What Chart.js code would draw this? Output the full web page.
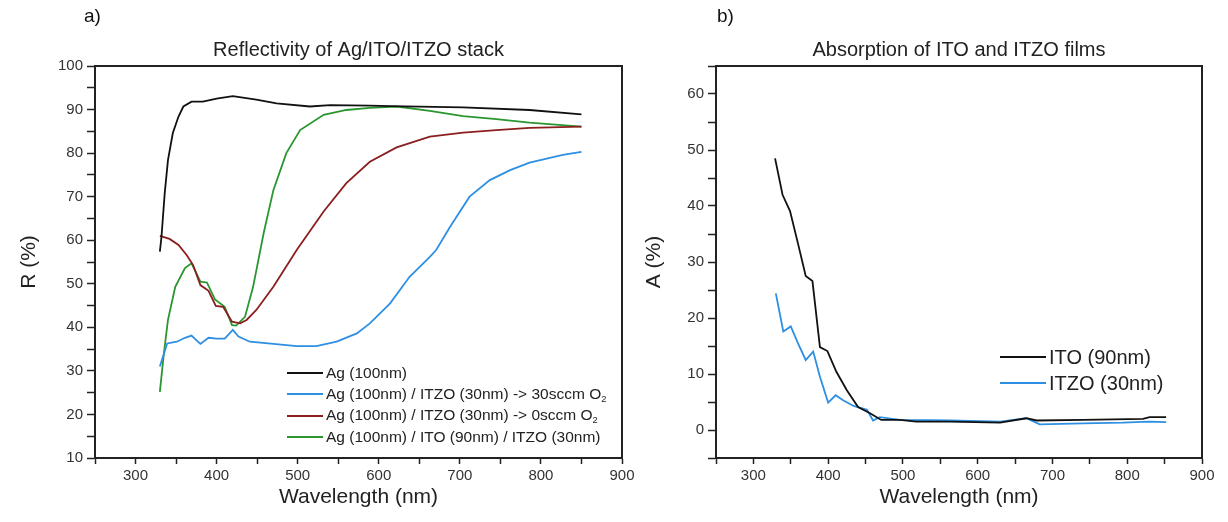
<!DOCTYPE html>
<html>
<head>
<meta charset="utf-8">
<script src="https://cdn.jsdelivr.net/npm/chart.js@4.4.0/dist/chart.umd.min.js"></script>
<style>
  body { margin: 0; background: #fff; font-family: "Liberation Sans", Arial, sans-serif; }
  #wrap { position: relative; width: 1228px; height: 522px; overflow: hidden; }
  .panel { position: absolute; top: 0; height: 522px; }
  .tag { position: absolute; top: 5px; font-size: 19px; color: #111; }
  .legend { position: absolute; color: #222; }
  .legend .row { display: flex; align-items: center; white-space: nowrap; }
  .legend .sw { display: inline-block; height: 2px; }
  .legend sub { font-size: 60%; vertical-align: -3px; }
</style>
</head>
<body>
<div id="wrap">
  <div class="panel" style="left:0;width:640px"><canvas id="reflChart"></canvas></div>
  <div class="panel" style="left:640px;width:588px"><canvas id="absChart"></canvas></div>
  <div class="tag" style="left:84px">a)</div>
  <div class="tag" style="left:717px">b)</div>
  <div class="legend" id="legA" style="left:287px;top:362px;font-size:15.5px"></div>
  <div class="legend" id="legB" style="left:1000px;top:344px;font-size:20px"></div>
</div>
<script>
// --- a) reflectivity, R (%) vs wavelength (nm)
const wlAg = [330, 332, 336, 340, 346, 353, 359, 369, 383, 400, 420, 449, 474, 515, 540, 589, 614, 704, 786, 850];
const rAg = [57.4, 60.8, 70.8, 78.4, 84.6, 88.4, 90.7, 91.8, 91.8, 92.5, 93.1, 92.3, 91.4, 90.7, 91.0, 90.9, 90.8, 90.5, 89.9, 88.9];

const wlItzo30 = [330, 339, 351, 361, 369, 380, 390, 400, 410, 420, 427, 441, 470, 499, 523, 548, 573, 589, 614, 638, 663, 671, 688, 712, 737, 762, 786, 827, 850];
const rItzo30 = [31.0, 36.3, 36.7, 37.6, 38.1, 36.2, 37.6, 37.4, 37.4, 39.4, 37.9, 36.7, 36.2, 35.7, 35.7, 36.7, 38.6, 40.9, 45.5, 51.6, 56.2, 57.8, 63.1, 70.0, 73.8, 76.1, 77.8, 79.6, 80.3];

const wlItzo0 = [330, 342, 353, 363, 371, 380, 390, 399, 408, 419, 429, 437, 449, 470, 499, 532, 560, 589, 622, 663, 704, 745, 786, 850];
const rItzo0 = [61.0, 60.3, 58.9, 56.6, 54.3, 49.7, 48.4, 44.9, 44.7, 41.3, 40.9, 41.7, 44.0, 49.3, 57.8, 66.6, 73.1, 78.0, 81.3, 83.8, 84.7, 85.3, 85.8, 86.1];

const wlStack = [330, 335, 340, 349, 361, 369, 373, 380, 388, 398, 410, 419, 424, 435, 445, 458, 470, 486, 503, 532, 560, 589, 622, 663, 704, 745, 786, 850];
const rStack = [25.2, 34.1, 41.7, 49.3, 53.6, 54.7, 53.2, 50.5, 50.3, 46.4, 44.7, 40.5, 40.4, 42.4, 49.3, 61.6, 71.5, 80.0, 85.3, 88.8, 89.9, 90.4, 90.7, 89.7, 88.5, 87.8, 87.0, 86.1];

const labelsA = [
  "Ag (100nm)",
  "Ag (100nm) / ITZO (30nm) -> 30sccm O2",
  "Ag (100nm) / ITZO (30nm) -> 0sccm O2",
  "Ag (100nm) / ITO (90nm) / ITZO (30nm)"
];
const colorsA = ["#111111", "#2e8fe3", "#8b1f1f", "#2a9630"];

// --- b) absorption, A (%) vs wavelength (nm)
const wlIto = [329, 339, 349, 360, 370, 379, 389, 399, 411, 425, 440, 456, 471, 496, 518, 563, 630, 665, 679, 741, 821, 830, 852];
const aIto = [48.5, 42.0, 39.1, 33.1, 27.5, 26.6, 14.8, 14.1, 10.4, 7.1, 4.1, 3.0, 1.8, 1.8, 1.5, 1.5, 1.3, 2.1, 1.7, 1.8, 2.0, 2.3, 2.3];

const wlItzo = [330, 340, 350, 360, 370, 380, 389, 400, 410, 420, 434, 452, 460, 469, 496, 563, 630, 665, 683, 741, 794, 830, 852];
const aItzo = [24.4, 17.6, 18.5, 15.4, 12.5, 14.0, 9.5, 4.9, 6.2, 5.3, 4.3, 3.6, 1.7, 2.3, 1.8, 1.7, 1.5, 2.1, 1.0, 1.2, 1.3, 1.5, 1.4];

const labelsB = ["ITO (90nm)", "ITZO (30nm)"];
const colorsB = ["#111111", "#2e8fe3"];

const xTicks = [300, 400, 500, 600, 700, 800, 900];

const pts = (xs, ys) => xs.map((x, i) => ({ x: x, y: ys[i] }));

// black box on top + right
const frame = {
  id: "frame",
  afterDraw(chart) {
    const { ctx, chartArea: a } = chart;
    ctx.save();
    ctx.strokeStyle = "#222";
    ctx.lineWidth = 2;
    ctx.beginPath();
    ctx.moveTo(a.left, a.top);
    ctx.lineTo(a.right, a.top);
    ctx.lineTo(a.right, a.bottom);
    ctx.stroke();
    ctx.restore();
  }
};

const fam = "'Liberation Sans', Arial, sans-serif";
const tickFont = { family: fam, size: 15 };
const titleFont = { family: fam, size: 21 };

function makeChart(id, sets, opts) {
  return new Chart(document.getElementById(id), {
    type: "line",
    data: {
      datasets: sets.map(s => ({
        label: s.label,
        data: s.data,
        borderColor: s.color,
        borderWidth: 1.8,
        pointRadius: 0,
        tension: 0,
        fill: false
      }))
    },
    options: {
      responsive: false,
      animation: false,
      layout: { padding: { left: 0, right: opts.padRight, top: 0, bottom: 0 } },
      plugins: {
        legend: { display: false },
        tooltip: { enabled: false },
        title: {
          display: true,
          text: opts.title,
          fullSize: false,
          color: "#222",
          font: { family: fam, size: 20, weight: "normal" },
          padding: { top: 38, bottom: 4 }
        }
      },
      scales: {
        x: {
          type: "linear",
          min: 250,
          max: 900,
          afterFit: s => { s.height = 64; },
          ticks: {
            stepSize: 50,
            autoSkip: false,
            maxRotation: 0,
            color: "#333",
            font: tickFont,
            padding: 3,
            callback: v => (xTicks.includes(v) ? v : "")
          },
          grid: { drawOnChartArea: false, tickLength: 6, color: "#222", tickWidth: 1.5 },
          border: { color: "#222", width: 2 },
          title: { display: true, text: "Wavelength (nm)", color: "#222", font: titleFont, padding: { top: 0, bottom: 12 } }
        },
        y: {
          min: opts.yMin,
          max: opts.yMax,
          afterFit: s => { s.width = opts.yWidth; },
          ticks: {
            stepSize: 5,
            autoSkip: false,
            color: "#333",
            font: tickFont,
            padding: 4,
            callback: v => (opts.yLabels.includes(v) ? v : "")
          },
          grid: { drawOnChartArea: false, tickLength: 8, color: "#222", tickWidth: 1.5 },
          border: { color: "#222", width: 2 },
          title: { display: true, text: opts.yTitle, color: "#222", font: titleFont, padding: { top: opts.yTitlePad, bottom: 0 } }
        }
      }
    },
    plugins: [frame]
  });
}

function setSize(id, w, h) {
  const c = document.getElementById(id);
  c.width = w; c.height = h;
  c.style.width = w + "px"; c.style.height = h + "px";
}
setSize("reflChart", 640, 522);
setSize("absChart", 588, 522);

makeChart("reflChart", [
  { label: labelsA[0], data: pts(wlAg, rAg), color: colorsA[0] },
  { label: labelsA[1], data: pts(wlItzo30, rItzo30), color: colorsA[1] },
  { label: labelsA[2], data: pts(wlItzo0, rItzo0), color: colorsA[2] },
  { label: labelsA[3], data: pts(wlStack, rStack), color: colorsA[3] }
], {
  title: "Reflectivity of Ag/ITO/ITZO stack",
  padRight: 18, yWidth: 95, yMin: 10, yMax: 100,
  yLabels: [10, 20, 30, 40, 50, 60, 70, 80, 90, 100],
  yTitle: "R (%)", yTitlePad: 17
});

makeChart("absChart", [
  { label: labelsB[0], data: pts(wlIto, aIto), color: colorsB[0] },
  { label: labelsB[1], data: pts(wlItzo, aItzo), color: colorsB[1] }
], {
  title: "Absorption of ITO and ITZO films",
  padRight: 26, yWidth: 76, yMin: -5, yMax: 65,
  yLabels: [0, 10, 20, 30, 40, 50, 60],
  yTitle: "A (%)", yTitlePad: 2
});

// legends drawn as html, O2 -> O with subscript
function buildLegend(elId, labels, colors, rowH, swW) {
  const el = document.getElementById(elId);
  labels.forEach((lab, i) => {
    const row = document.createElement("div");
    row.className = "row";
    row.style.height = rowH + "px";
    const sw = document.createElement("span");
    sw.className = "sw";
    sw.style.width = swW + "px";
    sw.style.marginRight = "3px";
    sw.style.background = colors[i];
    const txt = document.createElement("span");
    txt.innerHTML = lab.replace(/O2$/, "O<sub>2</sub>");
    row.appendChild(sw);
    row.appendChild(txt);
    el.appendChild(row);
  });
}
buildLegend("legA", labelsA, colorsA, 21.5, 36);
buildLegend("legB", labelsB, colorsB, 26, 46);
</script>
</body>
</html>
